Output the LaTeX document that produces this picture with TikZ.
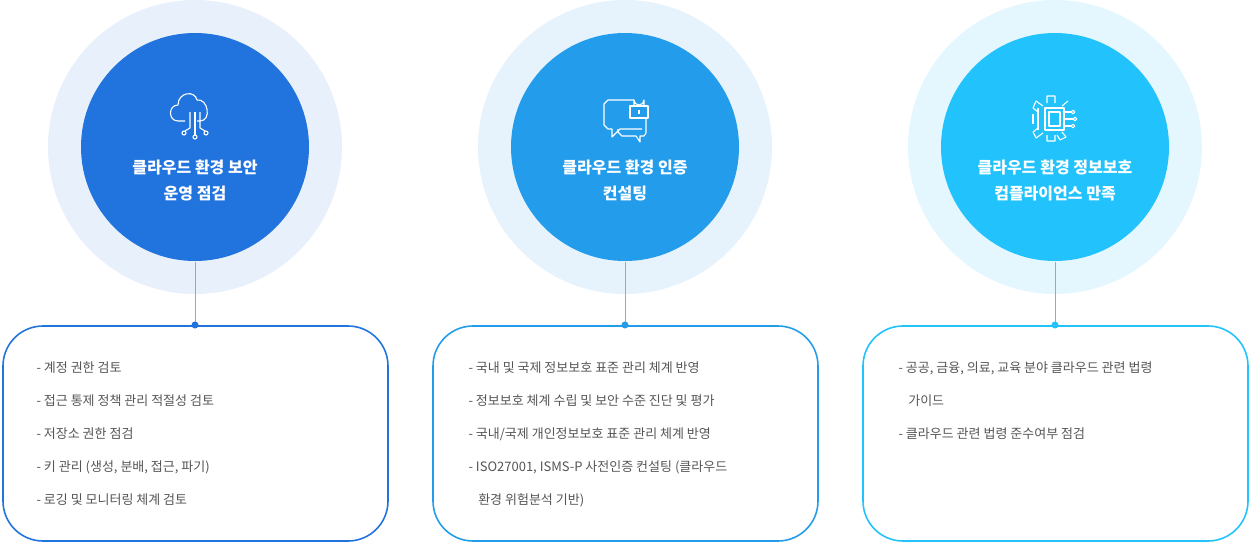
\documentclass[tikz,border=0pt]{standalone}
\usepackage{fontspec}
\newfontfamily\kr{Noto Sans CJK KR}
\definecolor{cA}{HTML}{2174DE}\definecolor{oA}{HTML}{E8F0FB}
\definecolor{cB}{HTML}{239CEB}\definecolor{oB}{HTML}{E6F3FC}
\definecolor{cC}{HTML}{22C3FD}\definecolor{oC}{HTML}{E5F7FE}
\definecolor{tx}{HTML}{555555}
\tikzset{
 title/.style={text=white,font=\kr\bfseries\fontsize{16}{26}\selectfont,align=center},
 item/.style={anchor=west,text=tx,font=\kr\fontsize{13}{16}\selectfont},
 box/.style={draw=#1,line width=1.6pt,rounded corners=40pt},
 ic/.style={draw=white,line width=1.1pt,line join=round}
}
\begin{document}
\begin{tikzpicture}[x=1pt,y=-1pt]
\useasboundingbox (0,0) rectangle (1250,543);
\foreach \cx/\c/\o [count=\i] in {195/cA/oA,625/cB/oB,1055/cC/oC}{
 \fill[\o] (\cx,147) circle (147);
 \fill[\c] (\cx,147) circle (114);
 \draw[gray!70,line width=0.7pt] (\cx,262) -- (\cx,325);
 \fill[\c] (\cx,325) circle (3.5);
 \draw[box=\c] (\cx-192,326) rectangle (\cx+193,541);
}
\node[title] (t1) at (195,180) {클라우드 환경 보안\\운영 점검};
\node[title] (t2) at (625,180) {클라우드 환경 인증\\컨설팅};
\node[title] (t3) at (1055,180) {클라우드 환경 정보보호\\컴플라이언스 만족};
% icon 1 cloud
\draw[ic] (185,121) -- (178,121) .. controls (168,121) and (168,105) .. (178,105) .. controls (178,92) and (195,90) .. (197,100) .. controls (208,98) and (212,121) .. (200,121) -- (197,121);
\draw[ic] (190,112)--(190,128)--(185,131); \draw[ic] (195,112)--(195,135); \draw[ic] (200,112)--(200,128)--(205,131);
\foreach \p in {(184,133),(195,137),(206,133)} \draw[ic] \p circle (2);
% icon 2 chat
\draw[ic] (634,100)--(608,100)--(604,104)--(604,125)--(608,129)--(612,129)--(612,137)--(620,129)--(642,129);
\draw[ic] (618,129)--(618,132)--(622,136)--(636,136)--(640,142)--(640,136)--(644,136)--(646,133)--(646,118);
\draw[ic] (630,106) rectangle (648,118); \draw[ic] (634,106)--(634,100) arc (180:0:5) -- (644,106);
\draw[ic] (639,110)--(639,114);
% icon 3 gear chip
\draw[ic] (1047,103)--(1047,96)--(1055,96)--(1055,103) (1062,106)--(1068,101) (1062,132)--(1066,137)--(1060,140)--(1057,135) (1047,135)--(1047,141)--(1055,141)--(1055,135) (1043,133)--(1036,138)--(1033,132)--(1038,128) (1038,112)--(1033,108)--(1036,101)--(1043,106);
\draw[ic] (1033,114)--(1033,124) (1038,108)--(1038,130) ;
\draw[ic] (1045,108) rectangle (1064,130); \draw[ic] (1049,112) rectangle (1060,126);
\draw[ic] (1064,112)--(1071,112) (1064,119)--(1073,119) (1064,126)--(1071,126);
\foreach \p in {(1073,112),(1075,119),(1073,126)} \draw[ic] \p circle (1.8);
% lists
\foreach \t [count=\j] in {- 계정 권한 검토,- 접근 통제 정책 관리 적절성 검토,- 저장소 권한 점검,{- 키 관리 (생성, 분배, 접근, 파기)},- 로깅 및 모니터링 체계 검토}
 \node[item] (a\j) at (33,368+33*\j-33) {\t};
\foreach \t [count=\j] in {- 국내 및 국제 정보보호 표준 관리 체계 반영,- 정보보호 체계 수립 및 보안 수준 진단 및 평가,- 국내/국제 개인정보보호 표준 관리 체계 반영,{- ISO27001, ISMS-P 사전인증 컨설팅 (클라우드},\hspace{0.75em}환경 위험분석 기반)}
 \node[item] (b\j) at (465,368+33*\j-33) {\t};
\foreach \t [count=\j] in {{- 공공, 금융, 의료, 교육 분야 클라우드 관련 법령},\hspace{0.75em}가이드,- 클라우드 관련 법령 준수여부 점검}
 \node[item] (c\j) at (895,368+33*\j-33) {\t};
\end{tikzpicture}
\end{document}
